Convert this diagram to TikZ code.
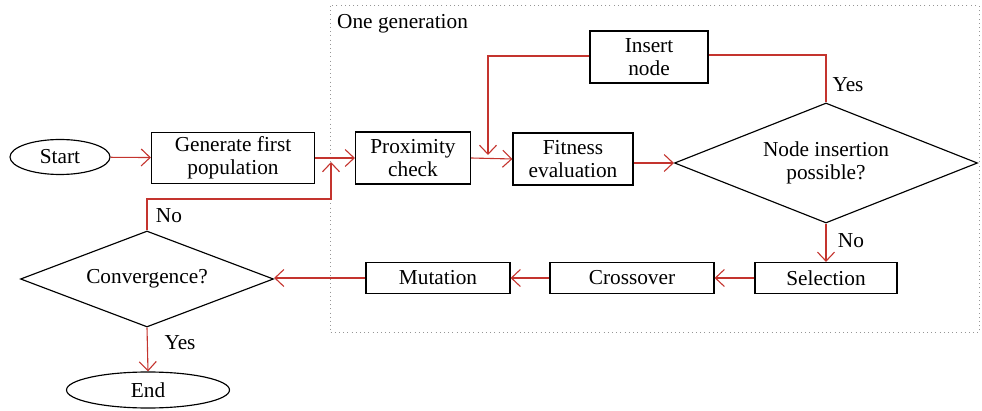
\documentclass[tikz,border=0pt]{standalone}
\usepackage{fontspec}
\setmainfont{Liberation Serif}
\usetikzlibrary{shapes.geometric,arrows.meta}
\definecolor{flowred}{RGB}{196,52,46}
\definecolor{dotgray}{RGB}{150,150,150}
\begin{document}
\begin{tikzpicture}[x=1pt,y=-1pt,
  every node/.style={font=\fontsize{21.3}{23}\selectfont},
  box/.style={draw,line width=1.15pt,rectangle,inner sep=0pt,align=center},
  term/.style={draw,line width=1.15pt,ellipse,inner sep=0pt},
  decide/.style={draw,line width=1.15pt,diamond,inner sep=0pt,align=center},
  link/.style={draw=flowred,line width=1.1pt},
  arr/.style={link,-{Straight Barb[length=9pt,width=17pt,line width=1.1pt]}},
  lbl/.style={inner sep=0pt}]
\useasboundingbox (0,0) rectangle (982,411);

% loop boundary
\draw[dotgray,line width=1pt,dash pattern=on 1pt off 3.2pt] (330,6) rectangle (979,333);
\node[lbl,anchor=west] (gentitle) at (337,24) {One generation};

% nodes
\node[term,minimum width=100pt,minimum height=35pt] (start) at (60,157) {Start};
\node[box,minimum width=163pt,minimum height=51pt] (gen) at (233,158) {Generate first\\population};
\node[box,minimum width=115pt,minimum height=52pt] (prox) at (413,158) {Proximity\\check};
\node[box,minimum width=120pt,minimum height=52pt] (fit) at (573,159) {Fitness\\evaluation};
\node[box,minimum width=118pt,minimum height=52pt] (ins) at (649,57) {Insert\\node};
\node[decide,shape aspect=2.525,minimum width=303pt,minimum height=120pt] (nip) at (826,163) {Node insertion\\possible?};
\node[box,minimum width=142pt,minimum height=31pt] (sel) at (826,278) {Selection};
\node[box,minimum width=164pt,minimum height=31pt] (cro) at (632,278) {Crossover};
\node[box,minimum width=144pt,minimum height=31pt] (mut) at (438,278) {Mutation};
\node[decide,shape aspect=2.635,minimum width=253pt,minimum height=96pt] (conv) at (147,279) {Convergence?};
\node[term,minimum width=163pt,minimum height=36pt] (end) at (148,390) {End};

% helper points
\coordinate (nobend) at (331,199);
\coordinate (nojoin) at (331,162);
\coordinate (insdrop) at (488,155);

% connectors
\draw[arr] (start) -- (gen);
\draw[arr] (gen.east) -- (prox.west);
\draw[arr] (conv.north) |- (nobend) -- (nojoin);
\draw[arr] (prox.east) -- (fit.west);
\draw[arr] ([yshift=1pt]ins.west) -| (insdrop);
\draw[arr] (fit.east |- nip.west) -- (nip.west);
\draw[link] (nip.north) |- ([yshift=2pt]ins.east);
\draw[arr] (nip.south) -- (sel.north);
\draw[arr] (sel.west) -- (cro.east);
\draw[arr] (cro.west) -- (mut.east);
\draw[arr] (mut.west) -- (mut.west -| conv.east);
\draw[arr] (conv.south) -- (end.north);

% branch labels
\node[lbl] (yes1) at (848,85) {Yes};
\node[lbl] (no1) at (851,241) {No};
\node[lbl] (no2) at (169,216) {No};
\node[lbl] (yes2) at (180,343) {Yes};
\end{tikzpicture}
\end{document}
